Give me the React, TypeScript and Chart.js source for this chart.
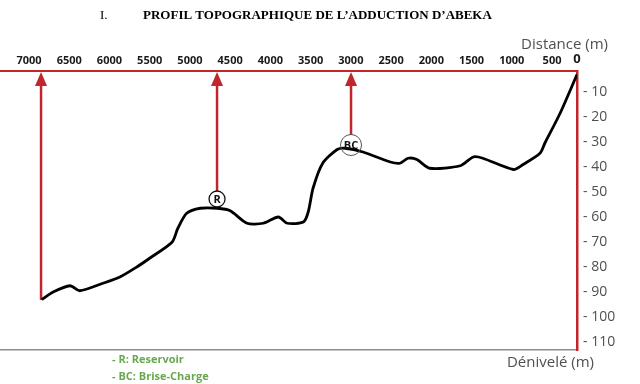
import React, { useEffect, useRef } from 'react';
import { Chart, registerables } from 'chart.js';

Chart.register(...registerables);

// ---- Text ----
const TITLE_NUMBER = 'I.';
const TITLE = 'PROFIL TOPOGRAPHIQUE DE L\u2019ADDUCTION D\u2019ABEKA';
const X_AXIS_TITLE = 'Distance (m)';
const Y_AXIS_TITLE = 'Dénivelé (m)';
const LEGEND_LINES = ['- R: Reservoir', '- BC: Brise-Charge'];

// ---- Profile data (distance in m, depth below start in m) ----
const DISTANCE = [6840, 6700, 6490, 6370, 6080, 5870, 5660, 5500, 5220, 5150, 5040, 4870, 4660, 4500, 4290, 4090, 3900, 3790, 3590, 3530, 3470, 3350, 3170, 3070, 2850, 2510, 2390, 2290, 2180, 2020, 1640, 1480, 1360, 980, 860, 650, 590, 400, 190];
const DEPTH = [93, 90, 87.5, 89.5, 86.5, 84, 80, 76.5, 70, 64.5, 58.5, 56.5, 56.5, 57.5, 62.5, 62.5, 60, 62.5, 62, 58, 48.5, 38.5, 33, 32.5, 34, 38, 38.5, 36.5, 37, 40.5, 39.5, 36, 36.5, 41, 39, 34.5, 30.5, 18.5, 3];

// ---- Axis ticks ----
const X_TICK_VALUES = [7000, 6500, 6000, 5500, 5000, 4500, 4000, 3500, 3000, 2500, 2000, 1500, 1000, 500, 190];
const X_TICK_LABELS = ['7000', '6500', '6000', '5500', '5000', '4500', '4000', '3500', '3000', '2500', '2000', '1500', '1000', '500', '0'];
const X_MIN = 190;
const X_MAX = 7360;
const Y_TICK_VALUES = [10, 20, 30, 40, 50, 60, 70, 80, 90, 100, 110];
const Y_MIN = 1.6;
const Y_MAX = 113.2;

// ---- Annotations ----
const ARROW_DISTANCE = [6850, 4663, 2998];
const ARROW_BASE_DEPTH = [93.2, 49.6, 27.2];
const MARKER_LABELS = ['R', 'BC'];
const MARKER_DISTANCE = [4663, 2998];
const MARKER_DEPTH = [52.8, 31.2];

const RED = '#c0262c';
const GREEN = '#6aa84f';
const AXIS_TEXT = '#505050';

const decorPlugin = {
  id: 'decor',
  beforeDatasetsDraw(chart: any) {
    const { ctx, scales, chartArea } = chart;
    const x = scales.x;
    const y = scales.y;
    const top = chartArea.top;
    ctx.save();
    ctx.strokeStyle = RED;
    ctx.fillStyle = RED;
    ctx.lineWidth = 2.5;
    ARROW_DISTANCE.forEach((d, i) => {
      const px = x.getPixelForValue(d);
      const pb = y.getPixelForValue(ARROW_BASE_DEPTH[i]);
      ctx.beginPath();
      ctx.moveTo(px, pb);
      ctx.lineTo(px, top + 10);
      ctx.stroke();
      ctx.beginPath();
      ctx.moveTo(px, top + 1);
      ctx.lineTo(px - 6, top + 15);
      ctx.lineTo(px + 6, top + 15);
      ctx.closePath();
      ctx.fill();
    });
    ctx.restore();
  },
  afterDatasetsDraw(chart: any) {
    const { ctx, scales } = chart;
    const x = scales.x;
    const y = scales.y;
    ctx.save();
    ctx.fillStyle = '#111';
    ctx.textAlign = 'center';
    ctx.textBaseline = 'middle';
    MARKER_LABELS.forEach((t, i) => {
      ctx.font = 'bold 11px "Open Sans"';
      ctx.fillText(t, x.getPixelForValue(MARKER_DISTANCE[i]), y.getPixelForValue(MARKER_DEPTH[i]) + 1);
    });
    ctx.restore();
  },
  afterDraw(chart: any) {
    const { ctx, chartArea } = chart;
    ctx.save();
    ctx.fillStyle = '#000';
    ctx.textBaseline = 'middle';
    ctx.textAlign = 'left';
    ctx.font = '13px "Liberation Serif"';
    ctx.fillText(TITLE_NUMBER, 100, 16);
    ctx.font = 'bold 13px "Liberation Serif"';
    ctx.fillText(TITLE, 143, 16);

    ctx.fillStyle = AXIS_TEXT;
    ctx.textAlign = 'right';
    ctx.font = '15px "Open Sans"';
    ctx.fillText(X_AXIS_TITLE, 608, 45);
    ctx.fillText(Y_AXIS_TITLE, 594, chartArea.bottom + 13);

    ctx.fillStyle = GREEN;
    ctx.textAlign = 'left';
    ctx.font = 'bold 11px "Open Sans"';
    LEGEND_LINES.forEach((t, i) => {
      ctx.fillText(t, 112, chartArea.bottom + 10 + i * 17);
    });
    ctx.restore();
  },
};

export default function App() {
  const canvasRef = useRef<HTMLCanvasElement | null>(null);

  useEffect(() => {
    if (!canvasRef.current) return;
    const chart = new Chart(canvasRef.current, {
      type: 'line',
      data: {
        datasets: [
          {
            type: 'scatter',
            data: MARKER_DISTANCE.map((d, i) => ({ x: d, y: MARKER_DEPTH[i] })),
            pointRadius: [8, 10.5],
            pointBackgroundColor: ['#ffffff', 'rgba(255,255,255,0)'],
            pointBorderColor: ['#111', '#555'],
            pointBorderWidth: [1.3, 1],
            showLine: false,
          } as any,
          {
            data: DISTANCE.map((d, i) => ({ x: d, y: DEPTH[i] })),
            borderColor: '#000',
            borderWidth: 2.8,
            pointRadius: 0,
            tension: 0.25,
            fill: false,
          },
        ],
      },
      options: {
        animation: false,
        responsive: false,
        events: [],
        layout: { autoPadding: false, padding: { top: 0, right: 0, bottom: 34, left: 0 } },
        plugins: {
          legend: { display: false },
          tooltip: { enabled: false },
          title: { display: false },
        },
        scales: {
          x: {
            type: 'linear',
            position: 'top',
            reverse: true,
            min: X_MIN,
            max: X_MAX,
            afterBuildTicks: (s: any) => {
              s.ticks = X_TICK_VALUES.map((v) => ({ value: v }));
            },
            afterFit: (s: any) => {
              s.height = 71;
              s.paddingLeft = 0;
              s.paddingRight = 0;
            },
            grid: { display: false, drawTicks: false },
            border: { color: RED, width: 2 },
            ticks: {
              autoSkip: false,
              maxRotation: 0,
              padding: 4,
              color: '#1a1a1a',
              font: (c: any) => ({
                family: '"Open Sans"',
                weight: 'bold',
                size: c.index === X_TICK_VALUES.length - 1 ? 13 : 11,
              }),
              callback: (_v: any, i: number) => X_TICK_LABELS[i],
            },
          },
          x2: {
            type: 'linear',
            position: 'bottom',
            min: X_MIN,
            max: X_MAX,
            reverse: true,
            afterFit: (s: any) => {
              s.height = 0;
              s.paddingLeft = 0;
              s.paddingRight = 0;
            },
            grid: { display: false, drawTicks: false },
            border: { color: '#8c8c8c', width: 1.5 },
            ticks: { display: false },
          },
          y: {
            type: 'linear',
            position: 'right',
            reverse: true,
            min: Y_MIN,
            max: Y_MAX,
            afterBuildTicks: (s: any) => {
              s.ticks = Y_TICK_VALUES.map((v) => ({ value: v }));
            },
            afterFit: (s: any) => {
              s.width = 63;
              s.paddingTop = 0;
              s.paddingBottom = 0;
            },
            grid: { display: false, drawTicks: false },
            border: { color: RED, width: 2.5 },
            ticks: {
              autoSkip: false,
              padding: 6,
              color: AXIS_TEXT,
              font: { family: '"Open Sans"', size: 14 },
              callback: (v: any) => `- ${v}`,
            },
          },
        },
      } as any,
      plugins: [decorPlugin],
    });
    return () => chart.destroy();
  }, []);

  return (
    <div style={{ position: 'absolute', left: 0, top: 0, width: 640, height: 384, background: '#fff' }}>
      <canvas ref={canvasRef} width={640} height={384} />
    </div>
  );
}
